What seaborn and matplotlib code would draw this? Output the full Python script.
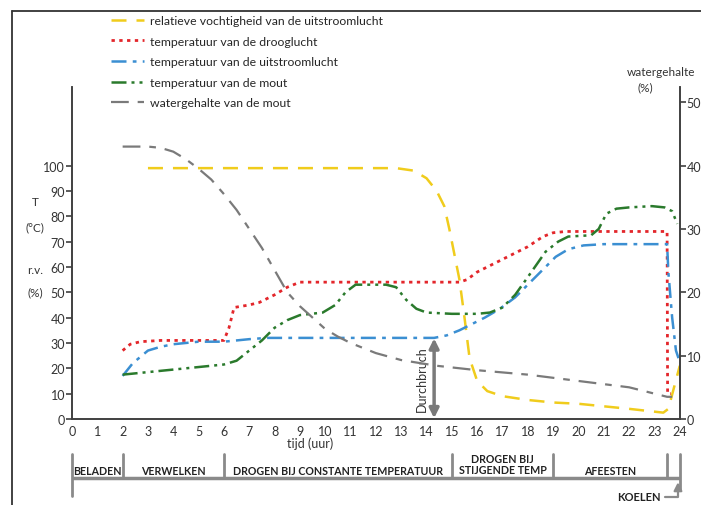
import matplotlib
matplotlib.use("Agg")
import matplotlib.pyplot as plt
import matplotlib.transforms as mtransforms
from matplotlib.lines import Line2D
import seaborn as sns

# relatieve vochtigheid van de uitstroomlucht (%)
tijd_rv = [3, 4, 6, 8, 10, 12, 12.8, 13.5, 14.0, 14.4, 14.7, 14.9, 15.1, 15.3, 15.5, 15.7,
           16.0, 16.4, 17.0, 18.0, 19, 20, 21, 22, 23.35, 23.55, 24]
rv = [99, 99, 99, 99, 99, 99, 99, 98, 95, 90, 84, 75, 65, 55, 40, 24,
      15, 11, 9, 7.5, 6.5, 6, 5, 4, 2.5, 4, 21]

# temperatuur van de drooglucht (°C)
tijd_droog = [2, 2.3, 2.7, 3.5, 5, 6.0, 6.2, 6.4, 7.0, 7.4, 8.0, 8.5, 9.0, 10, 12, 14,
              15.3, 15.6, 16, 17, 18, 18.6, 19, 19.5, 21, 23.5, 23.52, 23.65]
droog = [27, 29.5, 30.5, 31, 31, 31, 36, 44, 45, 46, 49, 52, 54, 54, 54, 54,
         54, 55, 58, 63, 68, 72, 73.5, 74, 74, 74, 10, 10]

# temperatuur van de uitstroomlucht (°C)
tijd_uit = [2, 2.4, 3.0, 3.5, 4, 5, 6, 7, 7.7, 9, 12, 14.3, 14.8, 15.3, 15.8, 16.3, 16.9,
            17.5, 18.1, 18.7, 19.1, 19.6, 20.2, 21, 23.5, 23.55, 23.7, 23.85, 23.95]
uit = [17, 22, 27, 28.5, 29.5, 30.5, 30.5, 31.5, 32, 32, 32, 32, 33, 35, 37.5, 40, 43.5,
       48, 54, 60, 64, 67, 68.5, 69, 69, 58, 40, 27, 24]

# temperatuur van de mout (°C)
tijd_mout = [2, 3, 4, 5, 6, 6.5, 7, 7.5, 8, 8.5, 9, 9.9, 10.4, 10.8, 11.2, 12.4, 12.8, 13.2,
             13.6, 14, 15, 16, 16.5, 17, 17.5, 18, 18.7, 19.2, 19.6, 20.5, 20.8, 21.1, 21.5,
             22, 22.9, 23.4, 23.7, 23.9]
mout = [17.5, 18.5, 19.5, 20.5, 21.5, 23, 27, 31, 36, 39, 41, 42, 45, 50, 53, 53, 52, 47,
        43.5, 42, 41.5, 41.5, 42, 44, 49, 56, 66, 70, 72, 72.5, 75, 81, 83,
        83.5, 84, 83.5, 82, 77]

# watergehalte van de mout (%), rechter as
tijd_water = [2, 3, 3.5, 4, 4.5, 5, 5.5, 6, 6.5, 7, 7.5, 8, 8.5, 9, 9.5, 10, 10.5, 11, 12,
              13, 14.4, 16, 18, 20, 22, 23.5, 23.7]
water = [43, 43, 42.8, 42.2, 41, 39.5, 37.8, 35.5, 33, 30, 27, 23.5, 20, 17.8, 16, 14.2,
         13, 12, 10.4, 9.3, 8.4, 7.7, 7, 6, 5, 3.5, 3.5]

fasen = ["BELADEN", "VERWELKEN", "DROGEN BIJ CONSTANTE TEMPERATUUR",
         "DROGEN BIJ\nSTIJGENDE TEMP", "AFEESTEN"]
fase_grenzen = [0, 2, 6, 15, 19, 23.5, 24]

sns.set_style("white")
plt.rcParams["font.family"] = ["Lato", "DejaVu Sans"]

fig = plt.figure(figsize=(7.01, 5.06), dpi=100)
ax = fig.add_axes([0.1027, 0.170, 0.867, 0.656])
ax2 = ax.twinx()

sns.lineplot(x=tijd_rv, y=rv, ax=ax, color="#f0cc1c", lw=1.8, linestyle=(0, (6, 4)),
             sort=False, estimator=None, label="relatieve vochtigheid van de uitstroomlucht")
sns.lineplot(x=tijd_droog, y=droog, ax=ax, color="#e3262b", lw=2, linestyle=(0, (1.2, 1.6)),
             sort=False, estimator=None, label="temperatuur van de drooglucht")
sns.lineplot(x=tijd_uit, y=uit, ax=ax, color="#3b8fd2", lw=1.8, linestyle=(0, (6, 2.5, 1.5, 2.5)),
             sort=False, estimator=None, label="temperatuur van de uitstroomlucht")
sns.lineplot(x=tijd_mout, y=mout, ax=ax, color="#2a7a2c", lw=1.8,
             linestyle=(0, (6, 2, 1.2, 2, 1.2, 2)),
             sort=False, estimator=None, label="temperatuur van de mout")
sns.lineplot(x=tijd_water, y=water, ax=ax2, color="#7a7a7a", lw=1.6, linestyle=(0, (8, 4, 3, 4)),
             sort=False, estimator=None, label="watergehalte van de mout")

ax.set_xlim(0, 24)
ax.set_ylim(0, 131)
ax2.set_ylim(0, 52.4)
ax.set_xticks(range(0, 25))
ax.set_yticks(range(0, 101, 10))
ax2.set_yticks(range(0, 51, 10))
ax.set_xlabel("")
ax.set_ylabel("")
ax2.set_ylabel("")

for a in (ax, ax2):
    a.spines["top"].set_visible(False)
    for s in ("left", "right", "bottom"):
        a.spines[s].set_color("#404040")
        a.spines[s].set_linewidth(1.2)
ax.tick_params(axis="x", direction="in", length=4, width=1.2, color="#404040",
               labelsize=9, labelcolor="#333333", pad=4)
ax.tick_params(axis="y", direction="out", length=4, width=1.2, color="#404040",
               labelsize=9, labelcolor="#333333", pad=1)
ax2.tick_params(axis="y", direction="out", length=4, width=1.2, color="#404040",
                labelsize=9, labelcolor="#333333", pad=1)

# legend
h1, l1 = ax.get_legend_handles_labels()
h2, l2 = ax2.get_legend_handles_labels()
ax.get_legend().remove()
ax2.get_legend().remove()
fig.legend(h1 + h2, l1 + l2, loc="upper left", bbox_to_anchor=(0.158, 0.968),
           frameon=False, fontsize=8.8, handlelength=2.7, handletextpad=0.55,
           labelspacing=0.78, borderpad=0, borderaxespad=0)

# axis titles
for txt, y in [("T", 203), ("(°C)", 228), ("r.v.", 270), ("(%)", 293)]:
    fig.text(35 / 701, 1 - y / 506, txt, ha="center", va="center", fontsize=8.5, color="#333333")
fig.text(661 / 701, 1 - 72 / 506, "watergehalte", ha="center", va="center", fontsize=8.5,
         color="#333333")
fig.text(645 / 701, 1 - 88 / 506, "(%)", ha="center", va="center", fontsize=8.5, color="#333333")

trans = mtransforms.blended_transform_factory(ax.transData, ax.transAxes)
ax.text(9.4, -0.072, "tijd (uur)", transform=trans, ha="center", va="center",
        fontsize=9, color="#333333")

# Durchbruch
ax.annotate("", xy=(14.3, 0.3), xytext=(14.3, 31.8),
            arrowprops=dict(arrowstyle="<|-|>", color="#7a7a7a", lw=2.5, mutation_scale=14,
                            shrinkA=0, shrinkB=0))
ax.text(13.8, 16, "Durchbruch", rotation=90, ha="center", va="center", fontsize=9,
        color="#333333")

# fase balk
bar_y = -0.178
top_y = -0.105
ax.plot([0, 24], [bar_y, bar_y], transform=trans, color="#8a8a8a", lw=2.5, clip_on=False,
        solid_capstyle="butt")
for g in fase_grenzen:
    bottom = -0.232 if g == 0 else (-0.215 if g == 24 else bar_y)
    ax.plot([g, g], [top_y, bottom], transform=trans, color="#8a8a8a", lw=2, clip_on=False)
for i, naam in enumerate(fasen):
    xc = (fase_grenzen[i] + fase_grenzen[i + 1]) / 2
    two = "\n" in naam
    ax.text(xc, -0.168 if two else -0.156, naam, transform=trans, ha="center",
            va="bottom" if two else "center",
            fontsize=7.7, fontweight="bold", color="#222222", linespacing=0.95)
ax.text(23.25, -0.234, "KOELEN", transform=trans, ha="right", va="center", fontsize=8,
        fontweight="bold", color="#222222")
ax.annotate("", xy=(23.93, -0.19), xytext=(23.4, -0.234), xycoords=trans, textcoords=trans,
            arrowprops=dict(arrowstyle="-|>", color="#8a8a8a", lw=1.6, mutation_scale=12,
                            connectionstyle="angle,angleA=0,angleB=90,rad=0",
                            shrinkA=0, shrinkB=0))

# kader
fig.add_artist(Line2D([12 / 701, 1.0], [1 - 12 / 506, 1 - 12 / 506], color="#333333", lw=1.3))
fig.add_artist(Line2D([12 / 701, 12 / 701], [0, 1 - 12 / 506], color="#333333", lw=1.3))

fig.savefig("out.png", dpi=100)
